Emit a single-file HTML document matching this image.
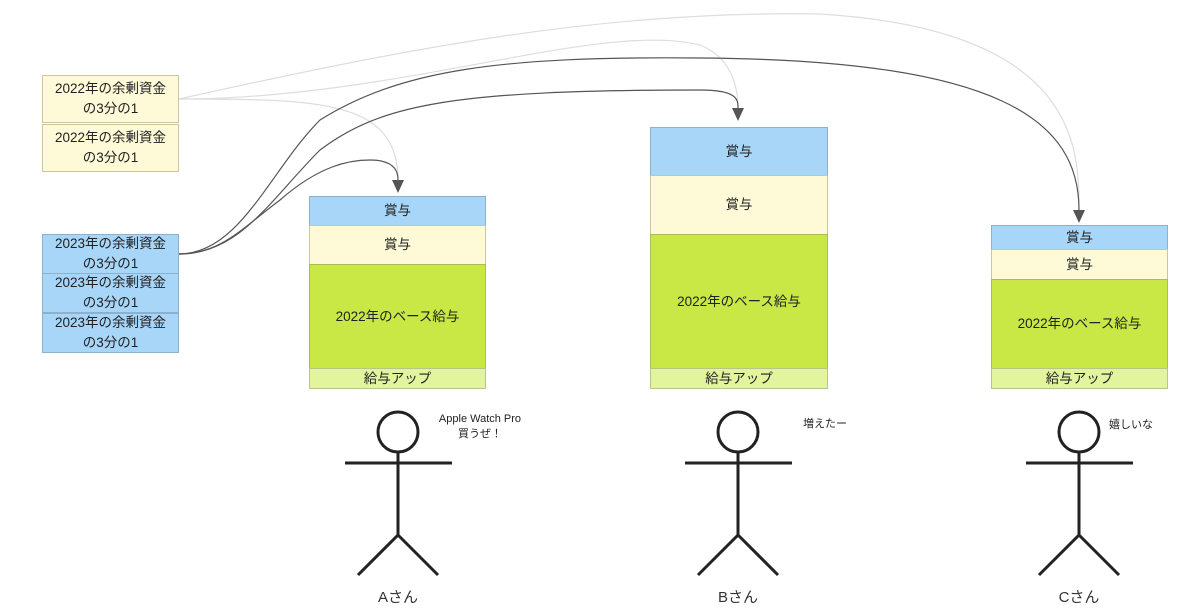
<!DOCTYPE html>
<html><head><meta charset="utf-8"><style>
body{margin:0;width:1179px;height:610px;background:#fff;position:relative;overflow:hidden;font-family:"Liberation Sans","Noto Sans CJK JP",sans-serif;color:#222}
.b{position:absolute;box-sizing:border-box;border:1.5px solid #bbb;display:flex;align-items:center;justify-content:center;text-align:center;font-size:13.5px;line-height:20px}
.y{background:#fef9d6;border-color:#ccc6a0}
.bl{background:#a8d6f9;border-color:#8fb0cc}
.g{background:#c9e845;border-color:#a8bd55}
.l{background:#e3f49e;border-color:#b8c48c}
.t{position:absolute;font-size:11px;text-align:center;line-height:15px}
.n{position:absolute;font-size:15px;color:#333;width:80px;text-align:center}
</style></head><body>
<svg width="1179" height="610" style="position:absolute;left:0;top:0">
<g fill="none" stroke-width="1.2">
<path d="M179,99 C320,99 398,100 398,180" stroke="#ddd"/>
<path d="M179,99 C400,99 600,20 700,45 C738,60 738,100 738,108" stroke="#ddd"/>
<path d="M179,99 C400,50 600,10 820,14 C1080,30 1079,150 1079,210" stroke="#ddd"/>
<path d="M179,254 C220,254 240,230 280,200 C320,165 350,160 370,160 C398,160 398,175 398,180" stroke="#555"/>
<path d="M179,254 C240,254 270,200 320,150 C380,105 450,90 700,90 C738,90 738,100 738,108" stroke="#555"/>
<path d="M179,254 C240,254 270,170 320,120 C400,70 500,56 700,58 C1000,60 1079,120 1079,210" stroke="#555"/>
</g>
<g fill="#555">
<path d="M392,180 L404,180 L398,193Z"/>
<path d="M732,108 L744,108 L738,121Z"/>
<path d="M1073,210 L1085,210 L1079,223Z"/>
</g>
<g fill="none" stroke="#222" stroke-width="3">
<circle cx="398" cy="432" r="20"/><path d="M345,463 H452 M398,452 V535 L358,575 M398,535 L438,575"/>
<circle cx="738" cy="432" r="20"/><path d="M685,463 H792 M738,452 V535 L698,575 M738,535 L778,575"/>
<circle cx="1079" cy="432" r="20"/><path d="M1026,463 H1133 M1079,452 V535 L1039,575 M1079,535 L1119,575"/>
</g>
</svg>
<div class="b y" style="left:42px;top:75px;width:137px;height:48px">2022年の余剰資金<br>の3分の1</div>
<div class="b y" style="left:42px;top:124px;width:137px;height:48px">2022年の余剰資金<br>の3分の1</div>
<div class="b bl" style="left:42px;top:234px;width:137px;height:40px">2023年の余剰資金<br>の3分の1</div>
<div class="b bl" style="left:42px;top:273px;width:137px;height:40px">2023年の余剰資金<br>の3分の1</div>
<div class="b bl" style="left:42px;top:313px;width:137px;height:40px">2023年の余剰資金<br>の3分の1</div>

<div class="b bl" style="left:309px;top:196px;width:177px;height:30px">賞与</div>
<div class="b y" style="left:309px;top:225px;width:177px;height:40px">賞与</div>
<div class="b g" style="left:309px;top:264px;width:177px;height:105px">2022年のベース給与</div>
<div class="b l" style="left:309px;top:368px;width:177px;height:21px">給与アップ</div>

<div class="b bl" style="left:650px;top:127px;width:178px;height:49px">賞与</div>
<div class="b y" style="left:650px;top:175px;width:178px;height:60px">賞与</div>
<div class="b g" style="left:650px;top:234px;width:178px;height:135px">2022年のベース給与</div>
<div class="b l" style="left:650px;top:368px;width:178px;height:21px">給与アップ</div>

<div class="b bl" style="left:991px;top:225px;width:177px;height:25px">賞与</div>
<div class="b y" style="left:991px;top:249px;width:177px;height:31px">賞与</div>
<div class="b g" style="left:991px;top:279px;width:177px;height:90px">2022年のベース給与</div>
<div class="b l" style="left:991px;top:368px;width:177px;height:21px">給与アップ</div>

<div class="t" style="left:430px;top:412px;width:100px">Apple Watch Pro<br>買うぜ！</div>
<div class="t" style="left:800px;top:417px;width:50px">増えたー</div>
<div class="t" style="left:1106px;top:418px;width:50px">嬉しいな</div>
<div class="n" style="left:358px;top:586px">Aさん</div>
<div class="n" style="left:698px;top:586px">Bさん</div>
<div class="n" style="left:1039px;top:586px">Cさん</div>
</body></html>
